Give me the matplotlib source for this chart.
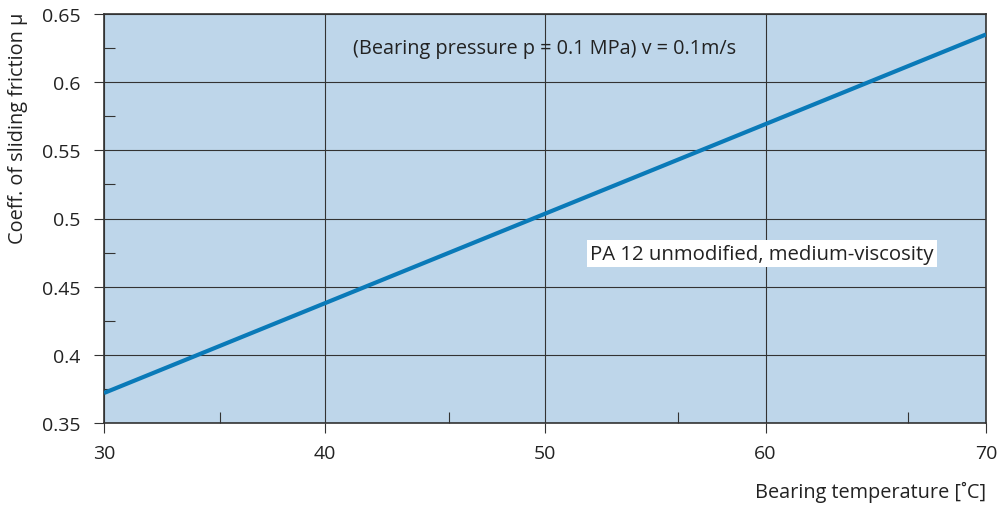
import matplotlib
matplotlib.use("Agg")
import matplotlib.pyplot as plt

# data
temperature = [30, 70]
friction = [0.372, 0.635]

x_major = [30, 40, 50, 60, 70]
x_minor = [35.25, 45.65, 56.05, 66.45]
y_major = [0.35, 0.4, 0.45, 0.5, 0.55, 0.6, 0.65]
y_minor = [0.375, 0.425, 0.475, 0.525, 0.575, 0.625]
y_labels = ["0.35", "0.4", "0.45", "0.5", "0.55", "0.6", "0.65"]

plt.rcParams['font.family'] = ['Open Sans', 'DejaVu Sans']
fs = 14.3

fig = plt.figure(figsize=(9.99, 5.06), dpi=100)
ax = fig.add_axes([104 / 999, 1 - 424 / 506, 882 / 999, 409 / 506])
ax.set_facecolor('#bed6ea')

ax.plot(temperature, friction, color='#0a7ab8', lw=3, solid_capstyle='butt', zorder=3)

ax.set_xlim(30, 70)
ax.set_ylim(0.35, 0.65)
ax.set_xticks(x_major)
ax.set_xticks(x_minor, minor=True)
ax.set_yticks(y_major)
ax.set_yticklabels(y_labels)
ax.set_yticks(y_minor, minor=True)

ax.grid(True, which='major', color='#333333', lw=0.8)
ax.set_axisbelow(True)
ax.tick_params(which='major', direction='out', length=7, width=0.8,
               color='#333333', labelcolor='#222222', labelsize=14)
ax.tick_params(axis='x', which='major', pad=8)
ax.tick_params(axis='y', which='major', pad=10)
ax.tick_params(which='minor', direction='in', length=8, width=0.8, color='#333333')
for s in ax.spines.values():
    s.set_color('#333333')
    s.set_linewidth(1.2)

ax.text(0.5, 0.917, "(Bearing pressure p = 0.1 MPa) v = 0.1m/s",
        transform=ax.transAxes, ha='center', va='center', fontsize=fs, color='#222222')
ax.text(52.05, 0.474, "PA 12 unmodified, medium-viscosity",
        ha='left', va='center', fontsize=14.7, color='#222222',
        bbox=dict(facecolor='white', edgecolor='none', pad=2.5))

fig.text(18 / 999, 1 - 128 / 506, "Coeff. of sliding friction μ", rotation=90,
         ha='center', va='center', fontsize=fs, color='#222222')
fig.text(986 / 999, 1 - 492 / 506, "Bearing temperature [˚C]",
         ha='right', va='center', fontsize=fs, color='#222222')

fig.savefig("out.png", dpi=100)
